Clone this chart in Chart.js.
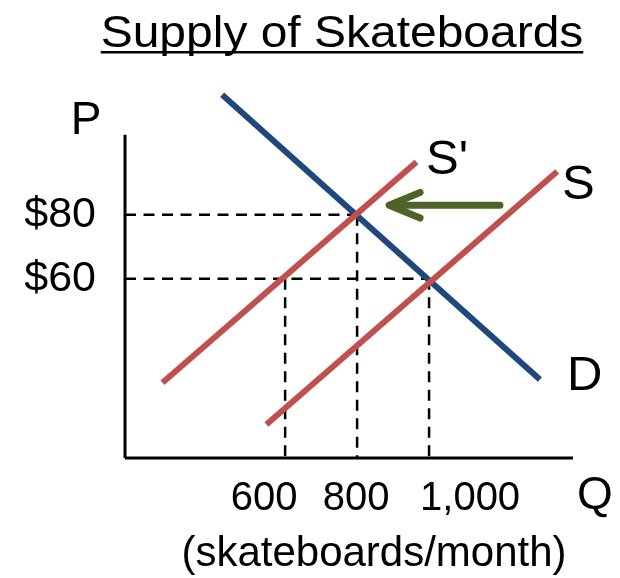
<!DOCTYPE html>
<html>
<head>
<meta charset="utf-8">
<script src="https://cdn.jsdelivr.net/npm/chart.js@4"></script>
<style>
  body { margin: 0; background: #fff; }
  #wrap { width: 620px; height: 578px; }
</style>
</head>
<body>
<div id="wrap"><canvas id="grafico" width="620" height="578"></canvas></div>
<script>
// quantities (skateboards/month) and prices ($)
const qTicks = [600, 800, 1000];
const qTickLabels = ["600", "800", "1,000"];
const pTicks = [60, 80];
const pTickLabels = ["$60", "$80"];

// curve end points
const demand = [{ x: 425, y: 117.5 }, { x: 1308, y: 28.5 }];
const supply = [{ x: 548, y: 14.5 }, { x: 1356, y: 93.5 }];
const supplyNew = [{ x: 259, y: 27.5 }, { x: 965, y: 96.5 }];
const shiftArrow = [{ x: 1197, y: 83 }, { x: 895, y: 83 }];
const arrowHead = [{ x: 975, y: 87 }, { x: 889, y: 83 }, { x: 975, y: 79 }];

// points where the guides meet the curves
const eqOld = { x: 1000, y: 60 };
const eqNew = { x: 800, y: 80 };
const oldPriceNewSupply = { x: 600, y: 60 };

// axis ranges (diagram is not to scale, origin is not 0,0)
const qMin = 155, qMax = 1475, qAxisEnd = 1400;
const pMin = 4, pMax = 119, pAxisEnd = 105;

const font = "'Liberation Sans', Arial, sans-serif";

const solid = (data, color, width, order) => ({
  data: data,
  showLine: true,
  borderColor: color,
  borderWidth: width,
  pointRadius: 0,
  borderCapStyle: "butt",
  clip: false,
  order: order,
});

const dashed = (data) => ({
  data: data,
  showLine: true,
  borderColor: "#000",
  borderWidth: 2.5,
  borderDash: [11, 7.5],
  pointRadius: 0,
  clip: false,
  order: 10,
});

const datasets = [
  solid([{ x: qMin, y: pMin }, { x: qMin, y: pAxisEnd }], "#000", 3, 9),
  solid([{ x: qMin, y: pMin }, { x: qAxisEnd, y: pMin }], "#000", 3, 9),
  dashed([{ x: qMin, y: eqNew.y }, eqNew]),
  dashed([{ x: qMin, y: eqOld.y }, eqOld]),
  dashed([oldPriceNewSupply, { x: oldPriceNewSupply.x, y: pMin }]),
  dashed([eqNew, { x: eqNew.x, y: pMin }]),
  dashed([eqOld, { x: eqOld.x, y: pMin }]),
  solid(demand, "#1f497d", 6, 3),
  solid(supplyNew, "#c0504d", 6, 2),
  solid(supply, "#c0504d", 6, 2),
  Object.assign(solid(shiftArrow, "#4f6228", 7, 1), { borderCapStyle: "round" }),
  Object.assign(solid(arrowHead, "#4f6228", 7, 1), { borderCapStyle: "round", borderJoinStyle: "round" }),
];

const testi = {
  id: "testi",
  afterDraw(chart) {
    const ctx = chart.ctx;
    const xs = chart.scales.x;
    ctx.save();
    ctx.fillStyle = "#000";
    ctx.textBaseline = "alphabetic";

    // title, underlined, a little wider than the font
    ctx.font = "44px " + font;
    ctx.textAlign = "center";
    const title = "Supply of Skateboards";
    ctx.save();
    ctx.translate(342, 0);
    ctx.scale(1.09, 1);
    ctx.fillText(title, 0, 47);
    const w = ctx.measureText(title).width;
    ctx.fillRect(-w / 2, 51, w, 2.5);
    ctx.restore();

    ctx.font = "46px " + font;
    ctx.fillText("P", 86, 134);
    ctx.textAlign = "left";
    ctx.fillText("Q", 577, 509);
    ctx.font = "49px " + font;
    ctx.fillText("S'", 426, 174);
    ctx.fillText("S", 562, 199);
    ctx.fillText("D", 567, 390);

    // quantity labels
    const shift = [-21, -1, 41];
    ctx.font = "40px " + font;
    ctx.textAlign = "center";
    qTicks.forEach((q, i) => {
      ctx.fillText(qTickLabels[i], xs.getPixelForValue(q) + shift[i], 510);
    });

    ctx.font = "42px " + font;
    ctx.fillText("(skateboards/month)", 374, 566);
    ctx.restore();
  },
};

const config = {
  type: "scatter",
  data: { datasets: datasets },
  options: {
    responsive: false,
    animation: false,
    devicePixelRatio: 1,
    layout: { padding: { top: 90, right: 20, bottom: 120, left: 0 } },
    plugins: {
      legend: { display: false },
      tooltip: { enabled: false },
    },
    scales: {
      x: { type: "linear", min: qMin, max: qMax, display: false },
      y: {
        type: "linear",
        min: pMin,
        max: pMax,
        grid: { display: false, drawTicks: false },
        border: { display: false },
        afterFit: (s) => { s.width = 125; },
        afterBuildTicks: (s) => { s.ticks = pTicks.map((v) => ({ value: v })); },
        ticks: {
          color: "#000",
          padding: 29,
          font: { size: 43, family: font },
          callback: (v) => pTickLabels[pTicks.indexOf(v)],
        },
      },
    },
  },
  plugins: [testi],
};

new Chart(document.getElementById("grafico"), config);
</script>
</body>
</html>
